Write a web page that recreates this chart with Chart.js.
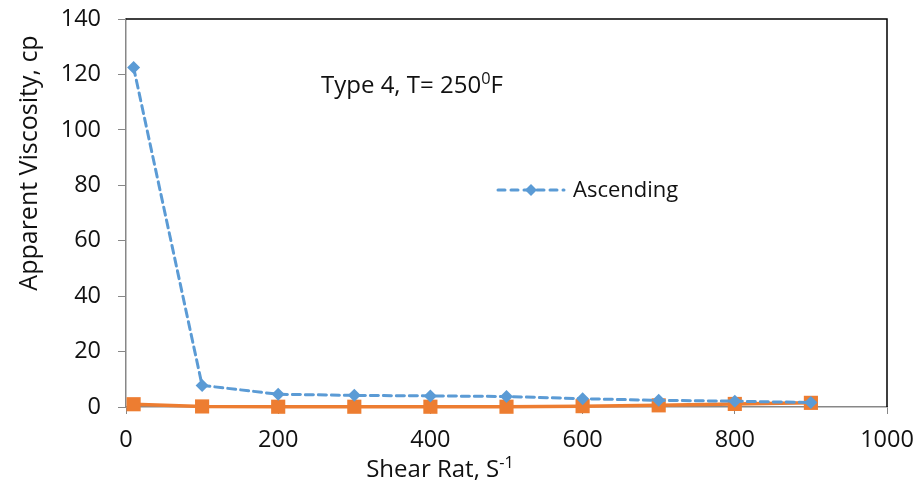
<!DOCTYPE html>
<html>
<head>
<meta charset="utf-8">
<title>Apparent Viscosity vs Shear Rate</title>
<script src="https://cdn.jsdelivr.net/npm/chart.js@4.4.1/dist/chart.umd.min.js"></script>
<style>
  html, body { margin: 0; padding: 0; background: #fff; }
  #wrap { width: 920px; height: 491px; position: relative; }
</style>
</head>
<body>
<div id="wrap"><canvas id="viscChart"></canvas></div>
<script>
// shear rate (1/s) and apparent viscosity (cp)
const shearRates = [10, 100, 200, 300, 400, 500, 600, 700, 800, 900];
const ascending = [122.5, 7.8, 4.6, 4.2, 4.0, 3.8, 3.0, 2.4, 2.1, 1.6];
const descending = [1.0, 0.2, 0.1, 0.1, 0.1, 0.1, 0.3, 0.6, 1.1, 1.5];
const xTicks = [0, 200, 400, 600, 800, 1000];
const yTicks = [0, 20, 40, 60, 80, 100, 120, 140];

const FONT = '"Open Sans", Lato, sans-serif';
const TEXT = '#111';
const AXIS = '#878787';
const BLUE = '#5b9bd5';
const ORANGE = '#ed7d31';

const toPoints = ys => shearRates.map((x, i) => ({ x: x, y: ys[i] }));

// text with one raised, smaller run (e.g. 250^0 F, S^-1)
function drawSupText(ctx, parts, x, y, size, align) {
  let total = 0;
  parts.forEach(p => {
    ctx.font = (p.sup ? size * 0.68 : size) + 'px ' + FONT;
    p.w = ctx.measureText(p.t).width;
    total += p.w;
  });
  let cx = align === 'center' ? x - total / 2 : x;
  ctx.textAlign = 'left';
  ctx.textBaseline = 'alphabetic';
  parts.forEach(p => {
    ctx.font = (p.sup ? size * 0.68 : size) + 'px ' + FONT;
    ctx.fillText(p.t, cx, p.sup ? y - size * 0.36 : y);
    cx += p.w;
  });
}

const extras = {
  id: 'extras',
  afterDatasetsDraw(chart) {
    const { ctx, chartArea: a } = chart;
    ctx.save();
    // black frame on the top and right of the plot area
    ctx.strokeStyle = '#000';
    ctx.lineWidth = 1.5;
    ctx.beginPath();
    ctx.moveTo(a.left, a.top);
    ctx.lineTo(a.right, a.top);
    ctx.lineTo(a.right, a.bottom);
    ctx.stroke();

    ctx.fillStyle = TEXT;
    drawSupText(ctx, [{ t: 'Type 4, T= 250' }, { t: '0', sup: true }, { t: 'F' }], 321, 93, 24);
    drawSupText(ctx, [{ t: 'Shear Rat, S' }, { t: '-1', sup: true }], 440, 477, 24, 'center');

    // y axis title
    ctx.save();
    ctx.translate(37, 163);
    ctx.rotate(-Math.PI / 2);
    ctx.font = '25px ' + FONT;
    ctx.textAlign = 'center';
    ctx.textBaseline = 'alphabetic';
    ctx.fillText('Apparent Viscosity, cp', 0, 0);
    ctx.restore();

    // legend entry for the ascending curve only
    const ly = 190;
    ctx.strokeStyle = BLUE;
    ctx.lineWidth = 3;
    ctx.lineCap = 'round';
    ctx.setLineDash([7, 6]);
    ctx.beginPath();
    ctx.moveTo(498, ly);
    ctx.lineTo(564, ly);
    ctx.stroke();
    ctx.setLineDash([]);
    ctx.fillStyle = BLUE;
    ctx.beginPath();
    ctx.moveTo(531, ly - 6);
    ctx.lineTo(537, ly);
    ctx.lineTo(531, ly + 6);
    ctx.lineTo(525, ly);
    ctx.closePath();
    ctx.fill();
    ctx.fillStyle = TEXT;
    ctx.font = '22px ' + FONT;
    ctx.textAlign = 'left';
    ctx.textBaseline = 'middle';
    ctx.fillText('Ascending', 573, ly + 1);
    ctx.restore();
  }
};

new Chart(document.getElementById('viscChart'), {
  type: 'line',
  data: {
    datasets: [
      {
        label: 'Ascending',
        data: toPoints(ascending),
        borderColor: BLUE,
        backgroundColor: BLUE,
        borderWidth: 3,
        borderDash: [8, 5],
        borderCapStyle: 'round',
        pointStyle: 'rectRot',
        pointRadius: 6.5,
        pointBorderWidth: 0,
        clip: false,
        tension: 0
      },
      {
        label: 'Descending',
        data: toPoints(descending),
        borderColor: ORANGE,
        backgroundColor: ORANGE,
        borderWidth: 3.5,
        pointStyle: 'rect',
        pointRadius: 10,
        pointBorderWidth: 0,
        clip: false,
        tension: 0
      }
    ]
  },
  options: {
    responsive: true,
    maintainAspectRatio: false,
    animation: false,
    layout: { padding: { top: 19, right: 33, left: 0, bottom: 0 } },
    plugins: {
      legend: { display: false },
      tooltip: { enabled: false }
    },
    scales: {
      x: {
        type: 'linear',
        min: 0,
        max: 1000,
        afterBuildTicks: s => { s.ticks = xTicks.map(v => ({ value: v })); },
        afterFit: s => { s.height = 84; s.paddingLeft = 0; s.paddingRight = 0; },
        grid: { drawOnChartArea: false, drawTicks: true, tickLength: 7, color: AXIS },
        border: { color: AXIS, width: 1.5 },
        ticks: {
          color: TEXT,
          padding: 12,
          maxRotation: 0,
          callback: v => String(v),
          font: { family: FONT, size: 23.5 }
        }
      },
      y: {
        min: 0,
        max: 140,
        afterBuildTicks: s => { s.ticks = yTicks.map(v => ({ value: v })); },
        afterFit: s => { s.width = 126; s.paddingTop = 0; s.paddingBottom = 0; },
        grid: { drawOnChartArea: false, drawTicks: true, tickLength: 8, color: AXIS },
        border: { color: AXIS, width: 1.5 },
        ticks: { color: TEXT, padding: 17, font: { family: FONT, size: 23.5 } }
      }
    }
  },
  plugins: [extras]
});
</script>
</body>
</html>
